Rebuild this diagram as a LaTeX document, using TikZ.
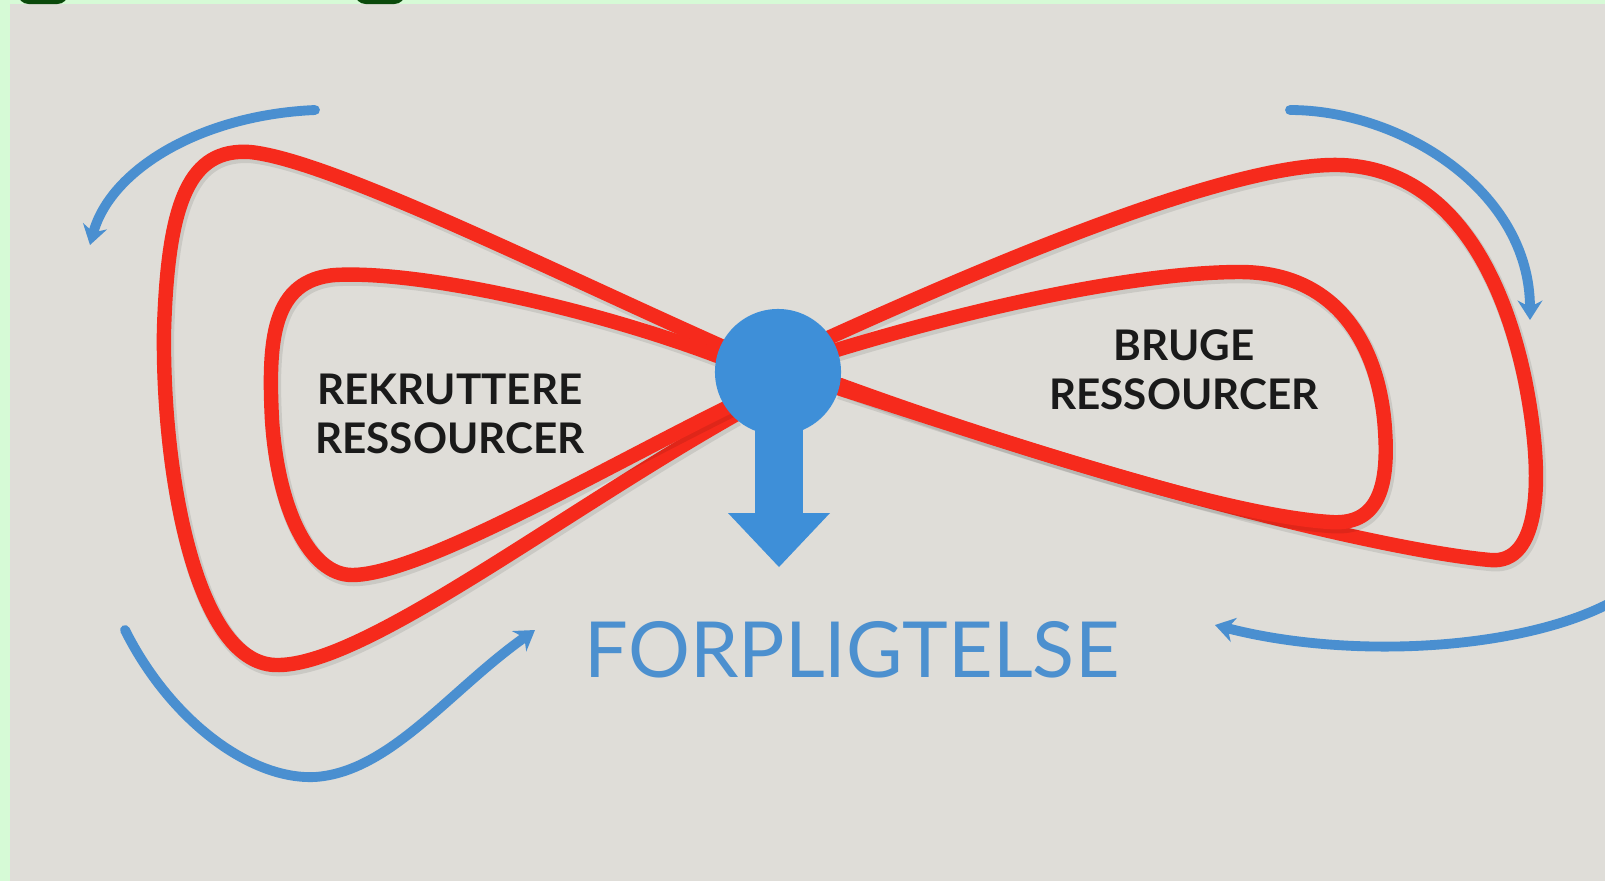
\documentclass[tikz,border=0pt]{standalone}
\usepackage{fontspec}
\setmainfont{Lato}
\usetikzlibrary{arrows.meta}
\definecolor{bordergreen}{HTML}{D6FAD6}
\definecolor{darkgreen}{HTML}{0B4A0B}
\definecolor{screengray}{HTML}{DFDDD8}
\definecolor{ropered}{HTML}{F62A1C}
\definecolor{knotblue}{HTML}{3E8FD8}
\definecolor{arrowblue}{HTML}{4A8FD0}
\definecolor{textblue}{HTML}{4C90CF}
\definecolor{textblack}{HTML}{1A1A1A}
\tikzset{
  redrope/.style={draw=ropered, line width=4.1pt, line cap=round, line join=round,
    preaction={draw=black, draw opacity=0.09, line width=4.8pt, transform canvas={shift={(0.5pt,-0.8pt)}}}},
  cyclearrow/.style={draw=arrowblue, line width=2.8pt, line cap=round, -{Stealth[length=5.5pt,width=7pt]}},
  looplabel/.style={font=\fontsize{12}{14}\selectfont\bfseries, text=textblack, align=center, inner sep=0pt},
  mainlabel/.style={font=\fontsize{22}{24}\selectfont, text=textblue, inner sep=0pt},
  knotstyle/.style={circle, fill=knotblue, minimum size=1.26cm, inner sep=0pt}
}
\begin{document}
\begin{tikzpicture}[x=0.01cm, y=-0.01cm]
\useasboundingbox (0,0) rectangle (1605,881);
% background
\fill[bordergreen] (0,0) rectangle (1605,881);
\fill[screengray] (10,4) rectangle (1605,881);
\fill[darkgreen, rounded corners=3pt] (18,-12) rectangle (68,4);
\fill[darkgreen, rounded corners=3pt] (355,-12) rectangle (405,4);

% red loops
\draw[redrope] (730,350) .. controls (550,270) and (330,160) .. (250,152)
  .. controls (190,148) and (168,200) .. (164,330)
  .. controls (162,470) and (195,662) .. (275,665)
  .. controls (360,668) and (550,520) .. (735,415);
\draw[redrope] (728,360) .. controls (600,310) and (420,270) .. (335,275)
  .. controls (272,280) and (268,340) .. (272,420)
  .. controls (278,510) and (310,575) .. (352,575)
  .. controls (420,575) and (600,470) .. (732,405);
\draw[redrope] (828,338) .. controls (1000,260) and (1220,168) .. (1330,165)
  .. controls (1440,162) and (1500,260) .. (1525,380)
  .. controls (1545,480) and (1540,565) .. (1490,560)
  .. controls (1380,550) and (1100,480) .. (840,385);
\draw[redrope] (830,352) .. controls (1000,300) and (1150,272) .. (1240,272)
  .. controls (1340,272) and (1380,350) .. (1385,430)
  .. controls (1390,500) and (1370,525) .. (1330,522)
  .. controls (1220,515) and (1000,440) .. (838,388);

% knot and downward arrow
\node[knotstyle] (knot) at (778,372) {};
\fill[knotblue] (755,400) rectangle (803,515);
\fill[knotblue] (728,513) -- (830,513) -- (779,567) -- cycle;

% labels
\node[looplabel] (rekrut) at (450,414) {REKRUTTERE\\RESSOURCER};
\node[looplabel] (bruge) at (1184,370) {BRUGE\\RESSOURCER};
\node[mainlabel] (forpl) at (852,650) {FORPLIGTELSE};

% blue cycle arrows
\draw[cyclearrow] (315,110) .. controls (200,115) and (110,170) .. (90,245);
\draw[cyclearrow] (125,630) .. controls (170,720) and (250,780) .. (315,777) .. controls (390,772) and (450,690) .. (535,630);
\draw[cyclearrow] (1610,603) .. controls (1520,650) and (1350,660) .. (1215,625);
\draw[cyclearrow] (1290,110) .. controls (1400,110) and (1530,190) .. (1530,320);
\end{tikzpicture}
\end{document}
